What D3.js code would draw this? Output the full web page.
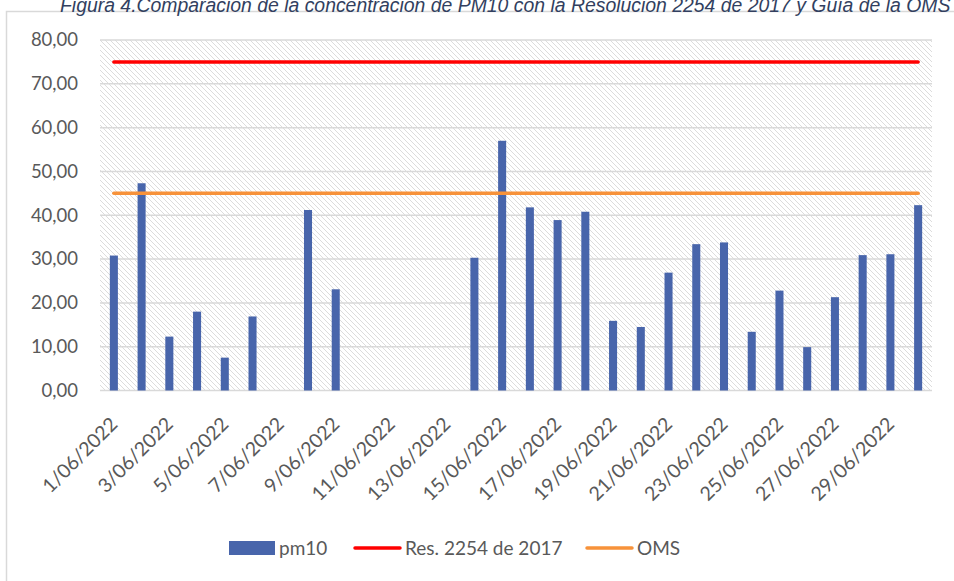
<!DOCTYPE html>
<html>
<head>
<meta charset="utf-8">
<script src="https://cdn.jsdelivr.net/npm/d3@7"></script>
<style>
  body { margin: 0; background: #fff; }
  svg { display: block; }
</style>
</head>
<body>
<div id="chart"></div>
<script>
var dates = ["1/06/2022","2/06/2022","3/06/2022","4/06/2022","5/06/2022","6/06/2022","7/06/2022","8/06/2022","9/06/2022","10/06/2022",
  "11/06/2022","12/06/2022","13/06/2022","14/06/2022","15/06/2022","16/06/2022","17/06/2022","18/06/2022","19/06/2022","20/06/2022",
  "21/06/2022","22/06/2022","23/06/2022","24/06/2022","25/06/2022","26/06/2022","27/06/2022","28/06/2022","29/06/2022","30/06/2022"];

var pm10 = [30.8, 47.3, 12.3, 18.0, 7.5, 16.9, null, 41.2, 23.1, null,
  null, null, null, 30.3, 57.0, 41.8, 38.9, 40.8, 15.9, 14.5,
  26.9, 33.4, 33.8, 13.4, 22.8, 9.9, 21.3, 30.9, 31.1, 42.3];

var res2254 = [75,75,75,75,75,75,75,75,75,75,75,75,75,75,75,75,75,75,75,75,75,75,75,75,75,75,75,75,75,75];
var oms = [45,45,45,45,45,45,45,45,45,45,45,45,45,45,45,45,45,45,45,45,45,45,45,45,45,45,45,45,45,45];

var yTicks = [0, 10, 20, 30, 40, 50, 60, 70, 80];
var titleText = "Figura 4.Comparación de la concentración de PM10 con la Resolución 2254 de 2017 y Guía de la OMS";

var width = 954, height = 581;
var margin = {top: 40, right: 22, bottom: 190.5, left: 100};
var innerW = width - margin.left - margin.right;
var innerH = height - margin.top - margin.bottom;

var svg = d3.select("#chart").append("svg")
  .attr("width", width)
  .attr("height", height)
  .style("font-family", "Lato, 'Noto Sans', sans-serif");

// hatch for the plot area
var defs = svg.append("defs");
defs.append("pattern")
  .attr("id", "hatch")
  .attr("patternUnits", "userSpaceOnUse")
  .attr("width", 5)
  .attr("height", 5)
  .append("path")
  .attr("d", "M0,0 L5,5 M-1,4 L1,6 M4,-1 L6,1")
  .attr("stroke", "#dcdcdc")
  .attr("stroke-width", 1);

// chart frame (runs off the right and bottom edge)
svg.append("rect")
  .attr("x", 6.5).attr("y", 11.5)
  .attr("width", 1000).attr("height", 620)
  .attr("fill", "none")
  .attr("stroke", "#d9d9d9")
  .attr("stroke-width", 1.5);

svg.append("text")
  .attr("x", 60).attr("y", 12)
  .attr("fill", "#323f60")
  .style("font-family", "'Liberation Sans', Arial, sans-serif")
  .style("font-style", "italic")
  .style("font-size", "19.4px")
  .text(titleText);

var x = d3.scaleBand().domain(dates).range([0, innerW]).paddingInner(0.71).paddingOuter(0.355);
var y = d3.scaleLinear().domain([0, 80]).range([innerH, 0]);

var g = svg.append("g").attr("transform", "translate(" + margin.left + "," + margin.top + ")");

g.append("rect")
  .attr("width", innerW).attr("height", innerH)
  .attr("fill", "url(#hatch)");

// gridlines
g.append("g")
  .selectAll("line")
  .data(yTicks)
  .enter().append("line")
  .attr("x1", 0).attr("x2", innerW)
  .attr("y1", function (d) { return y(d); })
  .attr("y2", function (d) { return y(d); })
  .attr("stroke", "#d9d9d9")
  .attr("stroke-width", 1.5);

// y axis labels
var yAxis = g.append("g")
  .call(d3.axisLeft(y).tickValues(yTicks).tickSize(0).tickPadding(22)
    .tickFormat(function (d) { return d3.format(".2f")(d).replace(".", ","); }));
yAxis.select(".domain").remove();
yAxis.selectAll("text")
  .attr("fill", "#595959")
  .style("font-size", "18.5px")
  .style("font-family", "Lato, 'Noto Sans', sans-serif");

// x axis labels, every second date
var xAxis = g.append("g")
  .attr("transform", "translate(0," + innerH + ")")
  .call(d3.axisBottom(x).tickSize(0)
    .tickValues(dates.filter(function (d, i) { return i % 2 === 0; })));
xAxis.select(".domain").remove();
xAxis.selectAll("text")
  .attr("fill", "#595959")
  .style("font-size", "19.5px")
  .style("font-family", "Lato, 'Noto Sans', sans-serif")
  .attr("text-anchor", "end")
  .attr("dy", null)
  .attr("y", 0)
  .attr("transform", "translate(5,35) rotate(-45)");

// bars
g.append("g")
  .selectAll("rect")
  .data(pm10.map(function (v, i) { return {date: dates[i], value: v}; })
    .filter(function (d) { return d.value !== null; }))
  .enter().append("rect")
  .attr("x", function (d) { return x(d.date); })
  .attr("y", function (d) { return y(d.value); })
  .attr("width", x.bandwidth())
  .attr("height", function (d) { return innerH - y(d.value); })
  .attr("fill", "#4865ab");

// limit lines
var line = d3.line()
  .x(function (d, i) { return x(dates[i]) + x.bandwidth() / 2; })
  .y(function (d) { return y(d); });

g.append("path").datum(res2254)
  .attr("d", line)
  .attr("fill", "none")
  .attr("stroke", "#ff0000")
  .attr("stroke-width", 3.5)
  .attr("stroke-linecap", "round");

g.append("path").datum(oms)
  .attr("d", line)
  .attr("fill", "none")
  .attr("stroke", "#f7923a")
  .attr("stroke-width", 3.5)
  .attr("stroke-linecap", "round");

// legend
var legend = svg.append("g").attr("transform", "translate(0,548)");
legend.append("rect")
  .attr("x", 229).attr("y", -7).attr("width", 46).attr("height", 14)
  .attr("fill", "#4865ab");
legend.append("text").attr("x", 279).attr("y", 0).attr("dy", "0.35em").text("pm10");

legend.append("line")
  .attr("x1", 355).attr("x2", 400).attr("y1", 0).attr("y2", 0)
  .attr("stroke", "#ff0000").attr("stroke-width", 3.5).attr("stroke-linecap", "round");
legend.append("text").attr("x", 405).attr("y", 0).attr("dy", "0.35em").text("Res. 2254 de 2017");

legend.append("line")
  .attr("x1", 587).attr("x2", 632).attr("y1", 0).attr("y2", 0)
  .attr("stroke", "#f7923a").attr("stroke-width", 3.5).attr("stroke-linecap", "round");
legend.append("text").attr("x", 637).attr("y", 0).attr("dy", "0.35em").text("OMS");

legend.selectAll("text")
  .attr("fill", "#595959")
  .style("font-size", "19px");
</script>
</body>
</html>
